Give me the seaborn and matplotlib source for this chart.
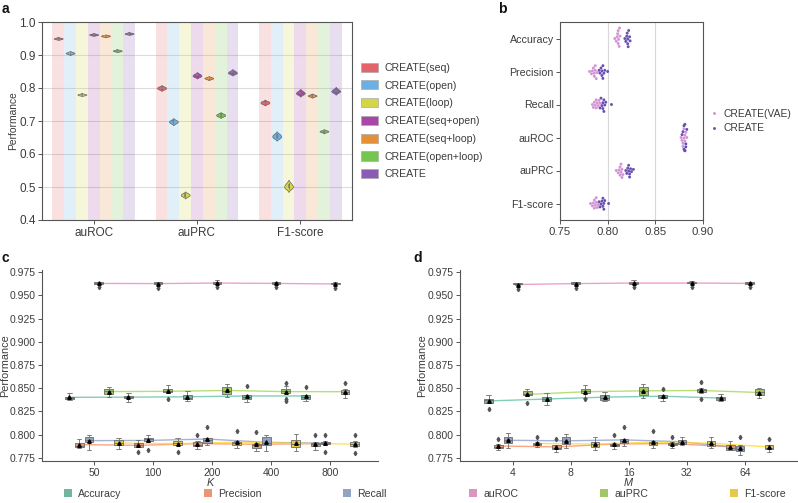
import numpy as np
import pandas as pd
import matplotlib
matplotlib.use("Agg")
import matplotlib.pyplot as plt
import seaborn as sns
from matplotlib.patches import Patch

# ---------------- panel a data ----------------
a_metrics = ["auROC", "auPRC", "F1-score"]
a_models = ["CREATE(seq)", "CREATE(open)", "CREATE(loop)", "CREATE(seq+open)",
            "CREATE(seq+loop)", "CREATE(open+loop)", "CREATE"]
a_colors = ["#e3646a", "#6cb0e3", "#d5d647", "#a847a8", "#e39039", "#73c64f", "#8b5cb4"]
a_auroc = [
    [0.948, 0.949, 0.950, 0.951, 0.952],
    [0.903, 0.905, 0.906, 0.907, 0.909],
    [0.778, 0.779, 0.780, 0.781, 0.782],
    [0.960, 0.961, 0.962, 0.963, 0.964],
    [0.956, 0.957, 0.958, 0.959, 0.960],
    [0.911, 0.912, 0.913, 0.914, 0.915],
    [0.963, 0.964, 0.965, 0.966, 0.967],
]
a_auprc = [
    [0.796, 0.798, 0.800, 0.802, 0.804],
    [0.693, 0.696, 0.698, 0.700, 0.703],
    [0.471, 0.474, 0.476, 0.478, 0.481],
    [0.834, 0.836, 0.838, 0.840, 0.843],
    [0.827, 0.829, 0.830, 0.831, 0.833],
    [0.714, 0.716, 0.718, 0.720, 0.722],
    [0.843, 0.845, 0.847, 0.849, 0.852],
]
a_f1 = [
    [0.752, 0.754, 0.756, 0.758, 0.760],
    [0.648, 0.651, 0.654, 0.657, 0.661],
    [0.495, 0.499, 0.502, 0.506, 0.512],
    [0.780, 0.783, 0.785, 0.787, 0.791],
    [0.774, 0.776, 0.777, 0.778, 0.780],
    [0.666, 0.668, 0.669, 0.670, 0.672],
    [0.786, 0.789, 0.791, 0.793, 0.797],
]

# ---------------- panel b data ----------------
b_metrics = ["Accuracy", "Precision", "Recall", "auROC", "auPRC", "F1-score"]
b_models = ["CREATE(VAE)", "CREATE"]
b_colors = ["#d493d4", "#6a4fb2"]
b_vae = [
    [0.8075, 0.809, 0.810, 0.8105, 0.811, 0.811, 0.8115, 0.812, 0.8125, 0.813],
    [0.781, 0.783, 0.784, 0.785, 0.786, 0.786, 0.787, 0.787, 0.788, 0.789],
    [0.784, 0.785, 0.786, 0.787, 0.788, 0.788, 0.789, 0.790, 0.791, 0.792],
    [0.877, 0.878, 0.879, 0.879, 0.880, 0.880, 0.881, 0.881, 0.882, 0.883],
    [0.809, 0.811, 0.812, 0.813, 0.813, 0.814, 0.814, 0.815, 0.815, 0.816],
    [0.782, 0.784, 0.785, 0.786, 0.786, 0.787, 0.788, 0.788, 0.789, 0.790],
]
b_create = [
    [0.818, 0.819, 0.820, 0.8205, 0.821, 0.821, 0.8215, 0.822, 0.823, 0.8235],
    [0.791, 0.792, 0.793, 0.794, 0.794, 0.795, 0.795, 0.796, 0.797, 0.800],
    [0.792, 0.793, 0.794, 0.795, 0.795, 0.796, 0.796, 0.797, 0.798, 0.804],
    [0.878, 0.879, 0.880, 0.880, 0.881, 0.881, 0.881, 0.882, 0.882, 0.883],
    [0.819, 0.820, 0.821, 0.822, 0.822, 0.823, 0.823, 0.824, 0.825, 0.827],
    [0.791, 0.792, 0.793, 0.794, 0.795, 0.795, 0.796, 0.796, 0.797, 0.801],
]

# ---------------- panels c / d data ----------------
cd_metrics = ["Accuracy", "Precision", "Recall", "auROC", "auPRC", "F1-score"]
cd_colors = ["#66c2a5", "#fc8d62", "#8da0cb", "#e78ac3", "#a6d854", "#ffd92f"]

c_groups = ["50", "100", "200", "400", "800"]
c_accuracy = [
    [0.8375, 0.8385, 0.8395, 0.841, 0.8445],
    [0.835, 0.839, 0.841, 0.842, 0.845],
    [0.836, 0.838, 0.840, 0.843, 0.847],
    [0.835, 0.838, 0.840, 0.842, 0.843, 0.852],
    [0.836, 0.838, 0.840, 0.842, 0.843, 0.851],
]
c_precision = [
    [0.786, 0.787, 0.788, 0.791, 0.795],
    [0.781, 0.787, 0.788, 0.790, 0.791, 0.794],
    [0.785, 0.787, 0.788, 0.789, 0.791, 0.793, 0.800],
    [0.782, 0.785, 0.788, 0.789, 0.791, 0.803],
    [0.784, 0.787, 0.789, 0.790, 0.792, 0.800],
]
c_recall = [
    [0.784, 0.792, 0.794, 0.798, 0.800],
    [0.783, 0.792, 0.795, 0.796, 0.797, 0.800],
    [0.789, 0.790, 0.793, 0.796, 0.796, 0.808],
    [0.782, 0.789, 0.791, 0.797, 0.800],
    [0.781, 0.789, 0.790, 0.791, 0.792, 0.793, 0.800],
]
c_auroc = [
    [0.959, 0.9625, 0.963, 0.9635, 0.964, 0.9645],
    [0.958, 0.9625, 0.963, 0.9635, 0.964, 0.9645],
    [0.959, 0.9625, 0.963, 0.964, 0.9645, 0.966],
    [0.959, 0.9625, 0.963, 0.9635, 0.964, 0.9645],
    [0.958, 0.962, 0.9625, 0.963, 0.9635, 0.964],
]
c_auprc = [
    [0.841, 0.844, 0.847, 0.849, 0.851],
    [0.838, 0.845, 0.847, 0.848, 0.849, 0.853],
    [0.841, 0.844, 0.847, 0.851, 0.855],
    [0.836, 0.838, 0.845, 0.846, 0.847, 0.848, 0.849, 0.852, 0.856],
    [0.839, 0.842, 0.845, 0.846, 0.847, 0.849, 0.856],
]
c_f1 = [
    [0.785, 0.789, 0.791, 0.794, 0.796],
    [0.781, 0.789, 0.790, 0.792, 0.794, 0.796],
    [0.786, 0.788, 0.790, 0.791, 0.792, 0.793, 0.804],
    [0.782, 0.787, 0.790, 0.794, 0.801],
    [0.780, 0.787, 0.788, 0.790, 0.791, 0.793, 0.800],
]

d_groups = ["4", "8", "16", "32", "64"]
d_accuracy = [
    [0.828, 0.834, 0.835, 0.837, 0.838, 0.839, 0.843],
    [0.832, 0.836, 0.838, 0.841, 0.845],
    [0.836, 0.837, 0.840, 0.843, 0.846],
    [0.836, 0.839, 0.840, 0.841, 0.842, 0.843, 0.849],
    [0.836, 0.837, 0.839, 0.841, 0.844],
]
d_precision = [
    [0.784, 0.785, 0.786, 0.787, 0.788, 0.790, 0.795],
    [0.781, 0.784, 0.785, 0.786, 0.788, 0.789, 0.795],
    [0.785, 0.787, 0.788, 0.789, 0.790, 0.791, 0.800],
    [0.786, 0.788, 0.789, 0.790, 0.791, 0.792, 0.797],
    [0.783, 0.784, 0.786, 0.789, 0.793],
]
d_recall = [
    [0.786, 0.791, 0.794, 0.797, 0.802],
    [0.786, 0.790, 0.793, 0.797, 0.801],
    [0.788, 0.790, 0.792, 0.793, 0.795, 0.795, 0.808],
    [0.789, 0.790, 0.792, 0.794, 0.797],
    [0.778, 0.781, 0.784, 0.785, 0.787, 0.789, 0.797],
]
d_auroc = [
    [0.957, 0.9615, 0.962, 0.9625, 0.963, 0.9635],
    [0.958, 0.9625, 0.963, 0.9635, 0.964, 0.9645],
    [0.959, 0.9625, 0.963, 0.964, 0.9645, 0.966],
    [0.959, 0.963, 0.9635, 0.964, 0.9645, 0.965],
    [0.959, 0.9625, 0.963, 0.9635, 0.964, 0.9645],
]
d_auprc = [
    [0.834, 0.842, 0.843, 0.845, 0.847, 0.849],
    [0.838, 0.840, 0.845, 0.846, 0.847, 0.848, 0.849, 0.850, 0.853],
    [0.840, 0.843, 0.847, 0.851, 0.855],
    [0.838, 0.845, 0.846, 0.848, 0.849, 0.850, 0.857],
    [0.839, 0.843, 0.846, 0.849, 0.850],
]
d_f1 = [
    [0.787, 0.788, 0.789, 0.790, 0.791, 0.792, 0.797],
    [0.783, 0.787, 0.790, 0.792, 0.798],
    [0.786, 0.788, 0.790, 0.791, 0.792, 0.793, 0.804],
    [0.786, 0.788, 0.790, 0.793, 0.797],
    [0.781, 0.784, 0.785, 0.786, 0.788, 0.789, 0.795],
]

# ---------------- style ----------------
sns.set_style("ticks")
plt.rcParams["font.family"] = ["Liberation Sans", "DejaVu Sans"]
plt.rcParams.update({
    "font.size": 7.6,
    "text.color": "#3c3c3c",
    "axes.labelcolor": "#3c3c3c",
    "xtick.color": "#555555",
    "ytick.color": "#555555",
    "xtick.labelcolor": "#3c3c3c",
    "ytick.labelcolor": "#3c3c3c",
    "axes.edgecolor": "#555555",
    "axes.linewidth": 0.8,
    "xtick.major.size": 3,
    "ytick.major.size": 3,
    "xtick.major.width": 0.7,
    "ytick.major.width": 0.7,
    "xtick.major.pad": 1.8,
    "ytick.major.pad": 1.5,
})

W, H = 798, 503
fig = plt.figure(figsize=(W / 100, H / 100), dpi=100)


def rect(l, t, r, b):
    return [l / W, 1 - b / H, (r - l) / W, (b - t) / H]


ax_a = fig.add_axes(rect(42, 22, 352, 220))
ax_b = fig.add_axes(rect(560, 22, 703, 220))
ax_c = fig.add_axes(rect(42, 270, 378, 461))
ax_d = fig.add_axes(rect(460, 270, 797, 461))

# ---------------- panel a ----------------
rows = []
for met, vals in zip(a_metrics, [a_auroc, a_auprc, a_f1]):
    for mod, v in zip(a_models, vals):
        for x in v:
            rows.append((met, mod, x))
df_a = pd.DataFrame(rows, columns=["metric", "model", "value"])
df_bg = pd.DataFrame([(m, mod, 1.0) for m in a_metrics for mod in a_models],
                     columns=["metric", "model", "top"])

ax_a.grid(axis="y", color="#dcdcdc", linewidth=0.8)
ax_a.set_axisbelow(True)
sns.barplot(data=df_bg, x="metric", y="top", hue="model", order=a_metrics,
            hue_order=a_models, palette=a_colors, saturation=1, alpha=0.2,
            width=0.8, errorbar=None, legend=False, linewidth=0, ax=ax_a)
sns.violinplot(data=df_a, x="metric", y="value", hue="model", order=a_metrics,
               hue_order=a_models, palette=a_colors, saturation=1, width=0.8,
               gap=0.25, density_norm="width", inner="box", linewidth=0.5,
               linecolor="#666666", legend=False, ax=ax_a,
               inner_kws=dict(box_width=1.2, whis_width=0.5))
ax_a.set_ylim(0.4, 1.0)
ax_a.set_xlim(-0.5, 2.5)
ax_a.set_yticks(np.arange(0.4, 1.01, 0.1))
ax_a.set_yticklabels([f"{v:.1f}" for v in np.arange(0.4, 1.01, 0.1)])
ax_a.tick_params(labelsize=8.5)
ax_a.set_xlabel("")
ax_a.set_ylabel("Performance", fontsize=7.4)
ax_a.yaxis.set_label_coords(-0.077, 0.5)
for s in ax_a.spines.values():
    s.set_visible(True)
a_handles = [Patch(facecolor=c, edgecolor="#aaaaaa", linewidth=0.5) for c in a_colors]
ax_a.legend(a_handles, a_models, loc="center left", bbox_to_anchor=(1.016, 0.5),
            frameon=False, handlelength=1.6, handleheight=0.95, handletextpad=0.6,
            labelspacing=0.72, fontsize=7.6, borderaxespad=0)

# ---------------- panel b ----------------
rows = []
for mod, vals in zip(b_models, [b_vae, b_create]):
    for met, v in zip(b_metrics, vals):
        for x in v:
            rows.append((met, mod, x))
df_b = pd.DataFrame(rows, columns=["metric", "model", "value"])
ax_b.grid(axis="x", color="#d8d8d8", linewidth=0.8)
ax_b.set_axisbelow(True)
sns.swarmplot(data=df_b, x="value", y="metric", hue="model", order=b_metrics,
              hue_order=b_models, palette=b_colors, size=2.1, linewidth=0, ax=ax_b)
ax_b.set_xlim(0.75, 0.90)
ax_b.set_xticks([0.75, 0.80, 0.85, 0.90])
ax_b.set_xticklabels(["0.75", "0.80", "0.85", "0.90"])
ax_b.tick_params(axis="x", labelsize=8.2)
ax_b.tick_params(axis="y", labelsize=7.7)
ax_b.set_xlabel("")
ax_b.set_ylabel("")
for s in ax_b.spines.values():
    s.set_visible(True)
ax_b.legend(loc="center left", bbox_to_anchor=(1.015, 0.5), frameon=False,
            handlelength=1.0, handletextpad=0.35, labelspacing=0.45, fontsize=7.4,
            borderaxespad=0, markerscale=1.0)


# ---------------- panels c / d ----------------
def draw_panel(ax, groups, data_lists, xlabel, xlim, label_x):
    rows = []
    for met, lists in zip(cd_metrics, data_lists):
        for g, vals in zip(groups, lists):
            for v in vals:
                rows.append((g, met, v))
    df = pd.DataFrame(rows, columns=["group", "metric", "value"])
    sns.pointplot(data=df, x="group", y="value", hue="metric", order=groups,
                  hue_order=cd_metrics, palette=cd_colors, dodge=5 / 6,
                  errorbar=None, markers="", linewidth=1.0, legend=False, ax=ax)
    for ln in ax.lines:
        ln.set_alpha(0.8)
    sns.boxplot(data=df, x="group", y="value", hue="metric", order=groups,
                hue_order=cd_metrics, palette=cd_colors, width=1.0, gap=0.1,
                linewidth=0.6, linecolor="#6b6b6b", fliersize=2.2,
                flierprops=dict(marker="d", markerfacecolor="#555555",
                                markeredgecolor="#555555"),
                showmeans=True,
                meanprops=dict(marker="^", markerfacecolor="black",
                               markeredgecolor="black", markersize=2.5),
                legend=False, ax=ax)
    ax.set_xlim(*xlim)
    ax.set_ylim(0.7717, 0.9772)
    yt = [0.775, 0.800, 0.825, 0.850, 0.875, 0.900, 0.925, 0.950, 0.975]
    ax.set_yticks(yt)
    ax.set_yticklabels([f"{v:.3f}" for v in yt])
    ax.tick_params(labelsize=7.5)
    ax.set_ylabel("Performance", fontsize=7.8)
    ax.yaxis.set_label_coords(label_x, 0.5)
    ax.set_xlabel(xlabel, fontsize=7.8, style="italic", labelpad=0)
    sns.despine(ax=ax)


draw_panel(ax_c, c_groups, [c_accuracy, c_precision, c_recall, c_auroc, c_auprc, c_f1],
           "K", (-0.88, 4.81), -0.095)
draw_panel(ax_d, d_groups, [d_accuracy, d_precision, d_recall, d_auroc, d_auprc, d_f1],
           "M", (-0.91, 4.9), -0.098)

leg_colors = [sns.desaturate(c, 0.75) for c in cd_colors]
cd_handles = [Patch(facecolor=c, edgecolor="none") for c in leg_colors]
fig.legend(cd_handles, cd_metrics, ncol=6, loc="lower left",
           bbox_to_anchor=(0.075, 0.0, 0.915, 0.025), mode="expand", frameon=False,
           handlelength=0.75, handleheight=0.8, handletextpad=0.6, fontsize=7.6,
           borderaxespad=0)

# panel letters
for lab, x, y in [("a", 2, 2), ("b", 498, 2), ("c", 2, 251), ("d", 413, 251)]:
    fig.text(x / W, 1 - y / H, lab, fontsize=10, fontweight="bold", color="#111111",
             va="top", ha="left")

fig.savefig("out.png", dpi=100)
